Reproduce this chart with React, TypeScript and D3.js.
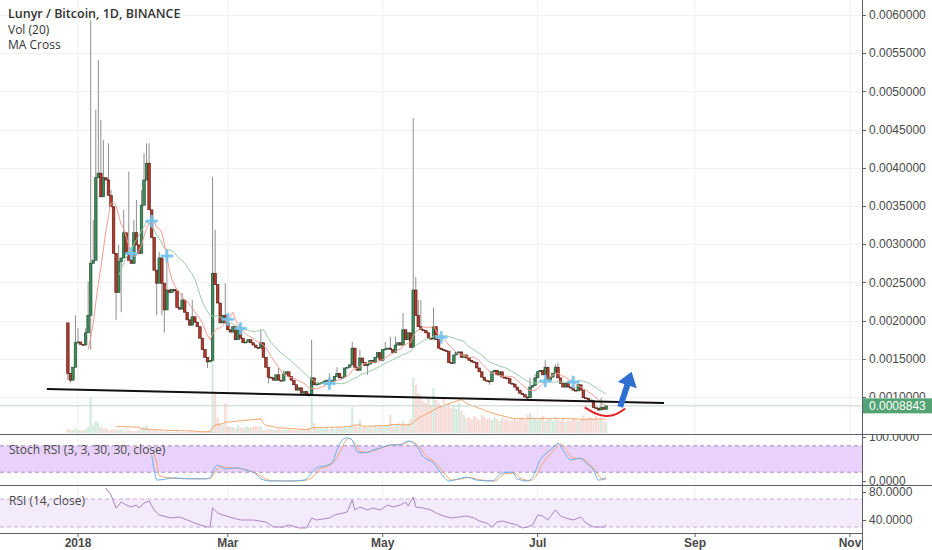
import React, { useEffect, useRef } from 'react';
import * as d3 from 'd3';

// prices are in units of 0.00001 BTC, one candle per day from 2017-12-28
const firstOpen = 197;
const closes = [
  131, 122, 139, 171, 172, 169, 168, 184, 207, 275,
  279, 387, 393, 362, 387, 384, 364, 349, 288, 237,
  277, 282, 315, 288, 279, 275, 315, 299, 288, 351,
  384, 406, 345, 309, 266, 249, 282, 249, 214, 240,
  237, 241, 239, 217, 215, 227, 211, 201, 194, 205,
  198, 192, 177, 162, 152, 146, 148, 262, 247, 223,
  197, 207, 197, 188, 185, 192, 175, 188, 177, 171,
  172, 175, 171, 168, 165, 164, 171, 152, 139, 126,
  125, 122, 129, 122, 121, 130, 133, 127, 122, 116,
  109, 112, 105, 107, 104, 103, 125, 116, 117, 118,
  119, 121, 122, 118, 122, 127, 131, 125, 126, 138,
  139, 142, 164, 139, 135, 151, 145, 141, 143, 148,
  145, 152, 158, 148, 162, 163, 164, 162, 158, 168,
  171, 168, 188, 175, 184, 165, 240, 207, 192, 188,
  187, 184, 177, 176, 192, 175, 164, 162, 161, 160,
  145, 144, 155, 158, 159, 152, 155, 151, 148, 146,
  145, 138, 133, 126, 122, 121, 120, 133, 135, 129,
  133, 126, 125, 124, 118, 117, 113, 109, 105, 103,
  100, 99, 113, 115, 125, 133, 135, 129, 139, 122,
  126, 131, 139, 125, 118, 113, 118, 113, 112, 109,
  108, 116, 109, 99, 98, 96, 95, 86, 85, 83,
  86, 84, 88.43,
];

// [candle index, high] for candles whose wick reaches above the body
const highWicks: [number, number][] = [
  [3, 207], [4, 190], [7, 190], [8, 251], [9, 593], [10, 332], [11, 476], [12, 541],
  [13, 463], [14, 436], [16, 432], [17, 371], [20, 299], [22, 345], [24, 395], [26, 332],
  [27, 358], [29, 371], [30, 419], [31, 432], [32, 432], [36, 290], [39, 283], [45, 236],
  [49, 227], [57, 388], [58, 319], [62, 249], [76, 188], [83, 138], [85, 135], [96, 175],
  [103, 131], [106, 139], [112, 172], [115, 162], [125, 172], [127, 179], [129, 179],
  [132, 210], [136, 465], [137, 257], [138, 227], [139, 227], [144, 217], [182, 125],
  [184, 130], [188, 148], [192, 143], [193, 145], [201, 122], [210, 99],
];
const lowWicks: [number, number][] = [
  [0, 122], [1, 118], [9, 162], [19, 201], [21, 211], [35, 207], [37, 207], [38, 184],
  [55, 138], [79, 118], [95, 100], [118, 129], [166, 116], [181, 97], [209, 82],
];

const volumes = [
  4, 3, 3, 5, 3, 3, 3, 4, 6, 36,
  8, 12, 10, 6, 4, 5, 3, 3, 4, 3,
  3, 3, 2, 2, 3, 2, 2, 2, 3, 4,
  6, 8, 3, 2, 2, 2, 1, 2, 1, 2,
  1, 1, 1, 2, 1, 1, 1, 1, 2, 1,
  1, 1, 1, 1, 1, 2, 2, 93, 40, 15,
  10, 8, 30, 7, 6, 6, 5, 8, 6, 5,
  7, 6, 5, 6, 7, 6, 7, 3, 3, 4,
  3, 3, 3, 4, 3, 3, 3, 4, 3, 3,
  3, 3, 4, 3, 4, 5, 36, 10, 5, 4,
  4, 4, 5, 4, 5, 4, 5, 6, 5, 6,
  5, 6, 26, 8, 6, 13, 6, 6, 5, 7,
  6, 8, 6, 7, 6, 7, 8, 18, 7, 8,
  9, 8, 12, 9, 10, 14, 55, 48, 40, 38,
  32, 30, 35, 28, 45, 33, 30, 28, 36, 26,
  30, 25, 28, 24, 30, 22, 18, 15, 16, 14,
  17, 15, 13, 18, 16, 14, 15, 13, 16, 14,
  12, 15, 13, 14, 12, 13, 14, 12, 15, 16,
  13, 18, 20, 16, 14, 13, 15, 17, 12, 13,
  14, 12, 16, 13, 12, 14, 11, 13, 12, 15,
  14, 12, 13, 18, 14, 16, 15, 14, 17, 13,
  15, 12, 10,
];

// [candle index, value]
const stochK: [number, number][] = [
  [33, 59], [34, 25], [35, 2], [42, 7], [48, 5], [54, 5], [56, 7], [58, 32], [59, 36],
  [62, 27], [66, 30], [70, 25], [74, 16], [76, 5], [80, 0], [87, 0], [93, 2], [96, 18],
  [98, 30], [101, 34], [104, 41], [106, 70], [108, 93], [110, 98], [112, 93], [114, 66],
  [117, 64], [120, 70], [123, 75], [127, 82], [131, 82], [134, 91], [137, 82], [140, 55],
  [144, 41], [148, 9], [150, 0], [154, 5], [157, 9], [161, 2], [167, 0], [171, 18],
  [175, 20], [177, 5], [181, 0], [183, 9], [186, 48], [189, 66], [191, 75], [193, 86],
  [195, 70], [198, 48], [202, 52], [204, 41], [207, 25], [209, 2], [212, 7],
];
const stochD: [number, number][] = [
  [34, 62], [35, 40], [36, 12], [42, 6], [48, 5], [54, 5], [56, 6], [58, 20], [60, 33],
  [63, 30], [66, 29], [70, 26], [74, 18], [77, 8], [80, 1], [90, 0], [94, 2], [97, 12],
  [99, 27], [102, 33], [105, 45], [107, 65], [109, 88], [111, 97], [113, 85], [115, 68],
  [118, 65], [121, 70], [124, 76], [128, 82], [132, 84], [135, 90], [138, 80], [141, 58],
  [145, 40], [149, 12], [151, 2], [155, 5], [158, 8], [162, 3], [168, 0], [172, 16],
  [176, 18], [178, 7], [182, 1], [184, 8], [187, 40], [190, 62], [192, 74], [194, 84],
  [196, 72], [199, 52], [203, 50], [205, 40], [208, 22], [210, 6], [212, 4],
];
const rsi: [number, number][] = [
  [15, 85.7], [17, 75.7], [19, 57.1], [20, 61.4], [21, 65.7], [23, 61.4], [25, 58.6],
  [27, 61.4], [28, 57.1], [30, 64.3], [32, 67.1], [34, 54.3], [36, 47.1], [39, 44.3],
  [41, 42.9], [44, 44.3], [47, 40], [49, 37.1], [52, 32.9], [55, 30], [56, 30], [57, 57.1],
  [59, 50], [61, 47.1], [65, 42.9], [68, 40], [73, 40], [78, 37.1], [81, 30], [85, 30],
  [87, 32.9], [91, 28.6], [94, 28.6], [96, 42.9], [98, 40], [103, 42.9], [105, 47.1],
  [110, 51.4], [112, 68.6], [113, 54.3], [115, 58.6], [118, 54.3], [120, 57.1], [123, 54.3],
  [126, 61.4], [128, 58.6], [131, 61.4], [133, 65.7], [134, 60], [136, 72.9], [137, 58.6],
  [140, 57.1], [143, 54.3], [145, 50], [148, 45.7], [151, 42.9], [154, 44.3], [157, 45.7],
  [160, 42.9], [162, 38.6], [165, 35.7], [167, 30], [169, 37.1], [171, 38.6], [174, 35.7],
  [177, 32.9], [179, 28.6], [181, 30], [183, 32.9], [185, 47.1], [187, 45.7], [189, 40],
  [192, 54.3], [194, 45.7], [196, 42.9], [199, 40], [202, 44.3], [204, 35.7], [207, 30],
  [209, 30], [211, 30], [212, 32.9],
];

const priceTicks = [100, 150, 200, 250, 300, 350, 400, 450, 500, 550, 600];
const tickDates = ['2018-01-01', '2018-03-01', '2018-05-01', '2018-07-01', '2018-09-01', '2018-11-01'];
const tickLabels = ['2018', 'Mar', 'May', 'Jul', 'Sep', 'Nov'];

// drawings on the chart, [date, price]
const trendLine: [string, number][] = [['2017-12-19T18:00', 110.5], ['2018-08-19T18:00', 92]];
const bowlCurve: [string, number][] = [
  ['2018-07-19T12:00', 86.5], ['2018-07-23T12:00', 78], ['2018-07-28', 74], ['2018-08-01', 76.5], ['2018-08-04T12:00', 85],
];
const upArrow: [string, number][] = [['2018-08-02T12:00', 87], ['2018-08-07', 133]];

const FONT = "'Open Sans', 'Liberation Sans', sans-serif";
const AXIS_FONT = "'Liberation Sans', Arial, sans-serif";

function sma(values: number[], n: number) {
  return values.map((_, i) => (i < n - 1 ? null : d3.mean(values.slice(i - n + 1, i + 1)) as number));
}

const toDate = (s: string) => new Date(s.length > 10 ? s + 'Z' : s);

export default function App() {
  const svgRef = useRef<SVGSVGElement>(null);

  useEffect(() => {
    if (!svgRef.current) return;
    const svg = d3.select(svgRef.current);
    svg.selectAll('*').remove();

    const W = 932;
    const H = 550;
    const axisX = 862;
    const mainBottom = 434;
    const stochBottom = 485;
    const rsiBottom = 533;

    const start = Date.UTC(2017, 11, 28);
    const dateOf = (i: number) => new Date(start + i * 864e5);

    const x = d3.scaleUtc()
      .domain([new Date('2018-01-01'), new Date('2018-11-01')])
      .range([78, 850]);
    const y = d3.scaleLinear().domain([100, 600]).range([397, 15]);
    const yVol = d3.scaleLinear().domain([0, 100]).range([433, 333]);
    const yStoch = d3.scaleLinear().domain([0, 100]).range([481, 437]);
    const yRsi = d3.scaleLinear().domain([40, 80]).range([520, 492]);

    const highMap = new Map(highWicks);
    const lowMap = new Map(lowWicks);
    const candles = closes.map((c, i) => {
      const o = i === 0 ? firstOpen : closes[i - 1];
      return {
        i,
        date: dateOf(i),
        o,
        c,
        h: Math.max(o, c, highMap.get(i) ?? 0),
        l: Math.min(o, c, lowMap.get(i) ?? 1e9),
        v: volumes[i],
        up: c >= o,
      };
    });
    const last = closes[closes.length - 1];

    svg.append('rect').attr('width', W).attr('height', H).attr('fill', '#ffffff');

    const defs = svg.append('defs');
    const clip = (id: string, y0: number, y1: number) =>
      defs.append('clipPath').attr('id', id)
        .append('rect').attr('x', 0).attr('y', y0).attr('width', W).attr('height', y1 - y0);
    clip('main-clip', 0, mainBottom);
    clip('stoch-clip', mainBottom, stochBottom);
    clip('rsi-clip', stochBottom, rsiBottom);
    defs.append('clipPath').attr('id', 'plot-clip')
      .append('rect').attr('x', 0).attr('y', 0).attr('width', axisX).attr('height', mainBottom);

    // grid
    const grid = svg.append('g');
    grid.selectAll('line.v')
      .data(tickDates)
      .enter()
      .append('line')
      .attr('x1', d => x(new Date(d)))
      .attr('x2', d => x(new Date(d)))
      .attr('y1', 0)
      .attr('y2', rsiBottom)
      .attr('stroke', '#eef0f4')
      .attr('stroke-width', 1);
    grid.selectAll('line.h')
      .data(priceTicks)
      .enter()
      .append('line')
      .attr('x1', 0)
      .attr('x2', axisX)
      .attr('y1', d => Math.round(y(d)) + 0.5)
      .attr('y2', d => Math.round(y(d)) + 0.5)
      .attr('stroke', '#f0f2f6')
      .attr('stroke-width', 1);

    const main = svg.append('g').attr('clip-path', 'url(#plot-clip)');

    // volume
    main.selectAll('rect.vol')
      .data(candles)
      .enter()
      .append('rect')
      .attr('x', d => x(d.date) - 1.1)
      .attr('width', 2.2)
      .attr('y', d => yVol(d.v))
      .attr('height', d => yVol(0) - yVol(d.v))
      .attr('fill', d => (d.up ? '#a9d8bb' : '#f0b8b0'))
      .attr('opacity', 0.5);

    const volMa = sma(volumes, 20);
    main.append('path')
      .datum(candles.filter(d => volMa[d.i] !== null))
      .attr('d', d3.line<typeof candles[number]>()
        .x(d => x(d.date))
        .y(d => yVol(volMa[d.i] as number)))
      .attr('fill', 'none')
      .attr('stroke', '#f5a36a')
      .attr('stroke-width', 1);

    // last price line
    main.append('line')
      .attr('x1', 0).attr('x2', axisX)
      .attr('y1', y(last))
      .attr('y2', y(last))
      .attr('stroke', '#c3d3c8')
      .attr('stroke-width', 1);

    // wicks
    main.selectAll('line.wick')
      .data(candles)
      .enter()
      .append('line')
      .attr('x1', d => x(d.date))
      .attr('x2', d => x(d.date))
      .attr('y1', d => y(d.h))
      .attr('y2', d => y(d.l))
      .attr('stroke', '#8f8f8f')
      .attr('stroke-width', 1);

    // bodies
    main.selectAll('rect.body')
      .data(candles)
      .enter()
      .append('rect')
      .attr('x', d => x(d.date) - 1.3)
      .attr('width', 2.6)
      .attr('y', d => y(Math.max(d.o, d.c)))
      .attr('height', d => Math.max(1, Math.abs(y(d.o) - y(d.c))))
      .attr('fill', d => (d.up ? '#3d8a59' : '#b5382a'))
      .attr('stroke', d => (d.up ? '#1f4a30' : '#4a1a14'))
      .attr('stroke-width', 0.6);

    // MA cross
    const fast = sma(closes, 9);
    const slow = sma(closes, 21);
    const maLine = (vals: (number | null)[]) =>
      d3.line<typeof candles[number]>()
        .defined(d => vals[d.i] !== null)
        .x(d => x(d.date))
        .y(d => y(vals[d.i] as number));
    main.append('path')
      .datum(candles)
      .attr('d', maLine(slow))
      .attr('fill', 'none')
      .attr('stroke', '#9ccaa6')
      .attr('stroke-width', 1);
    main.append('path')
      .datum(candles)
      .attr('d', maLine(fast))
      .attr('fill', 'none')
      .attr('stroke', '#f39a90')
      .attr('stroke-width', 1);

    const crosses = candles.filter(d => {
      const i = d.i;
      if (i === 0 || slow[i] === null || slow[i - 1] === null) return false;
      const a = (fast[i - 1] as number) - (slow[i - 1] as number);
      const b = (fast[i] as number) - (slow[i] as number);
      return Math.sign(a) !== Math.sign(b);
    });
    const crossG = main.selectAll('g.cross')
      .data(crosses)
      .enter()
      .append('g')
      .attr('transform', d => `translate(${x(d.date)}, ${y(fast[d.i] as number)})`);
    crossG.append('line').attr('x1', -5).attr('x2', 5).attr('y1', 0).attr('y2', 0);
    crossG.append('line').attr('x1', 0).attr('x2', 0).attr('y1', -5).attr('y2', 5);
    crossG.selectAll('line')
      .attr('stroke', '#74c4ee')
      .attr('stroke-width', 3)
      .attr('stroke-linecap', 'round')
      .attr('opacity', 0.9);

    // drawings
    main.append('line')
      .attr('x1', x(toDate(trendLine[0][0])))
      .attr('y1', y(trendLine[0][1]))
      .attr('x2', x(toDate(trendLine[1][0])))
      .attr('y2', y(trendLine[1][1]))
      .attr('stroke', '#111111')
      .attr('stroke-width', 2);

    svg.append('path')
      .datum(bowlCurve)
      .attr('d', d3.line<[string, number]>()
        .x(d => x(toDate(d[0])))
        .y(d => y(d[1]))
        .curve(d3.curveBasis))
      .attr('fill', 'none')
      .attr('stroke', '#e3242b')
      .attr('stroke-width', 2);

    const a0 = [x(toDate(upArrow[0][0])), y(upArrow[0][1])];
    const a1 = [x(toDate(upArrow[1][0])), y(upArrow[1][1])];
    const ang = Math.atan2(a1[1] - a0[1], a1[0] - a0[0]);
    const len = Math.hypot(a1[0] - a0[0], a1[1] - a0[1]);
    const arrow = svg.append('g')
      .attr('transform', `translate(${a0[0]}, ${a0[1]}) rotate(${(ang * 180) / Math.PI})`);
    arrow.append('rect')
      .attr('x', 0).attr('y', -3)
      .attr('width', len - 11).attr('height', 6)
      .attr('fill', '#2f6fd0');
    arrow.append('path')
      .attr('d', `M${len},0 L${len - 14},-10 L${len - 14},10 Z`)
      .attr('fill', '#2f6fd0');

    // stoch RSI pane
    const stochG = svg.append('g').attr('clip-path', 'url(#stoch-clip)');
    stochG.append('rect')
      .attr('x', 0).attr('width', axisX)
      .attr('y', yStoch(80)).attr('height', yStoch(20) - yStoch(80))
      .attr('fill', '#e8d2fb');
    [80, 20].forEach(v => {
      stochG.append('line')
        .attr('x1', 0).attr('x2', axisX)
        .attr('y1', yStoch(v)).attr('y2', yStoch(v))
        .attr('stroke', '#a78bc6').attr('stroke-width', 1).attr('stroke-dasharray', '4,3');
    });
    const idxLine = (ys: d3.ScaleLinear<number, number>, curve: d3.CurveFactory) =>
      d3.line<[number, number]>().x(d => x(dateOf(d[0]))).y(d => ys(d[1])).curve(curve);
    stochG.append('path').datum(stochD)
      .attr('d', idxLine(yStoch, d3.curveMonotoneX))
      .attr('fill', 'none').attr('stroke', '#f4a56a').attr('stroke-width', 1);
    stochG.append('path').datum(stochK)
      .attr('d', idxLine(yStoch, d3.curveMonotoneX))
      .attr('fill', 'none').attr('stroke', '#6aaee8').attr('stroke-width', 1);

    // RSI pane
    const rsiG = svg.append('g').attr('clip-path', 'url(#rsi-clip)');
    rsiG.append('rect')
      .attr('x', 0).attr('width', axisX)
      .attr('y', yRsi(70)).attr('height', yRsi(30) - yRsi(70))
      .attr('fill', '#f3eafc');
    [70, 30].forEach(v => {
      rsiG.append('line')
        .attr('x1', 0).attr('x2', axisX)
        .attr('y1', yRsi(v)).attr('y2', yRsi(v))
        .attr('stroke', '#c4aedb').attr('stroke-width', 1).attr('stroke-dasharray', '4,3');
    });
    rsiG.append('path').datum(rsi)
      .attr('d', idxLine(yRsi, d3.curveLinear))
      .attr('fill', 'none').attr('stroke', '#a587c4').attr('stroke-width', 1);

    // pane borders and axes
    const border = '#5d606b';
    [mainBottom, stochBottom].forEach(v => {
      svg.append('line').attr('x1', 0).attr('x2', W).attr('y1', v + 0.5).attr('y2', v + 0.5)
        .attr('stroke', border).attr('stroke-width', 1);
    });
    svg.append('line').attr('x1', 0).attr('x2', axisX).attr('y1', rsiBottom + 0.5).attr('y2', rsiBottom + 0.5)
      .attr('stroke', border).attr('stroke-width', 1);
    svg.append('line').attr('x1', axisX + 0.5).attr('x2', axisX + 0.5).attr('y1', 0).attr('y2', H)
      .attr('stroke', border).attr('stroke-width', 1);

    // the price tag hides the lower part of the axis label next to it
    defs.append('clipPath').attr('id', 'price-axis-clip')
      .append('rect').attr('x', 0).attr('y', 0).attr('width', W).attr('height', Math.round(y(last) - 7.5));

    const axisText = (g: d3.Selection<SVGGElement, unknown, null, undefined>, ys: (v: number) => number,
      vals: number[], fmt: (v: number) => string) => {
      vals.forEach(v => {
        g.append('line')
          .attr('x1', axisX).attr('x2', axisX + 4)
          .attr('y1', Math.round(ys(v)) + 0.5).attr('y2', Math.round(ys(v)) + 0.5)
          .attr('stroke', border);
        g.append('text')
          .attr('x', axisX + 7).attr('y', ys(v)).attr('dy', '0.35em')
          .style('font-family', AXIS_FONT).style('font-size', '12px').style('fill', '#4a4a4a')
          .text(fmt(v));
      });
    };
    axisText(svg.append('g').attr('clip-path', 'url(#price-axis-clip)'), y, priceTicks, v => (v / 1e5).toFixed(7));
    axisText(svg.append('g').attr('clip-path', 'url(#stoch-clip)'), yStoch, [100, 0], v => v.toFixed(4));
    axisText(svg.append('g').attr('clip-path', 'url(#rsi-clip)'), yRsi, [80, 40], v => v.toFixed(4));

    // last price tag
    svg.append('rect')
      .attr('x', axisX + 1).attr('y', y(last) - 7.5).attr('width', W - axisX - 1).attr('height', 15)
      .attr('fill', '#54a374');
    svg.append('text')
      .attr('x', axisX + 7).attr('y', y(last)).attr('dy', '0.35em')
      .style('font-family', AXIS_FONT).style('font-size', '12px').style('fill', '#ffffff')
      .text((last / 1e5).toFixed(7));

    // time axis
    tickDates.forEach((d, k) => {
      const px = x(new Date(d));
      svg.append('line').attr('x1', px).attr('x2', px).attr('y1', rsiBottom).attr('y2', rsiBottom + 4)
        .attr('stroke', border);
      svg.append('text')
        .attr('x', px).attr('y', 547).attr('text-anchor', 'middle')
        .style('font-family', AXIS_FONT).style('font-size', '12px')
        .style('font-weight', k === 0 ? '700' : '600').style('fill', '#4a4a4a')
        .text(tickLabels[k]);
    });

    // legends
    const legend = (txt: string, ly: number, weight: string, size: string) =>
      svg.append('text').attr('x', 8).attr('y', ly)
        .style('font-family', FONT).style('font-size', size).style('font-weight', weight)
        .style('fill', '#333333').text(txt);
    legend('Lunyr / Bitcoin, 1D, BINANCE', 18, '600', '12.5px');
    legend('Vol (20)', 33.5, '400', '12px');
    legend('MA Cross', 49, '400', '12px');
    svg.append('text').attr('x', 9).attr('y', 454)
      .style('font-family', FONT).style('font-size', '12px').style('fill', '#4a4a4a')
      .text('Stoch RSI (3, 3, 30, 30, close)');
    svg.append('text').attr('x', 9).attr('y', 505)
      .style('font-family', FONT).style('font-size', '12px').style('fill', '#4a4a4a')
      .text('RSI (14, close)');
  }, []);

  return (
    <div style={{ position: 'absolute', left: 0, top: 0, width: 932, height: 550, background: '#ffffff' }}>
      <svg ref={svgRef} width={932} height={550} style={{ display: 'block' }}></svg>
    </div>
  );
}
